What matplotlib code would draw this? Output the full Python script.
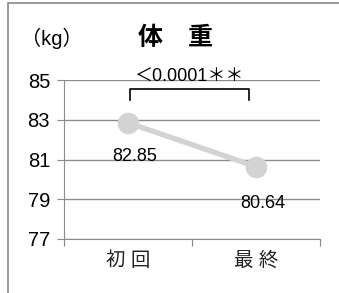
import matplotlib.pyplot as plt
from matplotlib.patches import Rectangle

plt.rcParams['font.family'] = ['Liberation Sans', 'Noto Sans CJK JP']

# data
categories = ['初 回', '最 終']
weights = [82.85, 80.64]
value_labels = ['82.85', '80.64']
p_text = '＜0.0001＊＊'
yticks = [77, 79, 81, 83, 85]

fig = plt.figure(figsize=(3.39, 2.93), dpi=100)
ax = fig.add_axes([64 / 339, 1 - 239 / 293, 256 / 339, 159 / 293])

xs = [0.5, 1.5]
ax.plot(xs, weights, color='#d3d3d3', linewidth=3.8, marker='o',
        markersize=14.5, markerfacecolor='#d3d3d3', markeredgecolor='#d3d3d3',
        zorder=3, solid_capstyle='butt')

ax.set_xlim(0, 2)
ax.set_ylim(77, 85)
ax.set_yticks(yticks)
ax.set_yticklabels([str(t) for t in yticks], fontsize=14.5)
ax.set_xticks([0, 1, 2])
ax.set_xticklabels([])
ax.set_xticks(xs, minor=True)
ax.set_xticklabels(categories, minor=True, fontsize=14, color='#222222')
ax.tick_params(axis='x', which='minor', length=0, pad=9)
ax.tick_params(axis='x', which='major', length=5, color='#888888')
ax.tick_params(axis='y', length=5, color='#888888', pad=5)

ax.grid(axis='y', color='#8c8c8c', linewidth=1)
ax.set_axisbelow(True)
for s in ['top', 'right']:
    ax.spines[s].set_visible(False)
for s in ['left', 'bottom']:
    ax.spines[s].set_color('#8c8c8c')

# value labels
ax.text(xs[0] + 0.055, weights[0] - 1.72, value_labels[0], ha='center', va='center', fontsize=13)
ax.text(xs[1] + 0.052, weights[1] - 1.86, value_labels[1], ha='center', va='center', fontsize=13)

# significance bracket
ax.plot([0.516, 0.516, 1.445, 1.445], [84.0, 84.55, 84.55, 84.0], color='black',
        linewidth=1.2, clip_on=False)
ax.text(0.977, 85.15, p_text, ha='center', va='center', fontsize=13)

# title and unit
fig.text(176 / 339, 1 - 38 / 293, '体　重', ha='center', va='center',
         fontsize=18, fontweight='bold')
fig.text(52 / 339, 1 - 38 / 293, '（kg）', ha='center', va='center', fontsize=14.5)

# outer frame
fig.patches.append(Rectangle((8 / 339, -0.1), 1.2, 1 - 3 / 293 + 0.1,
                             transform=fig.transFigure, fill=False,
                             edgecolor='#888888', linewidth=1.2))

fig.savefig('out.png', dpi=100)
